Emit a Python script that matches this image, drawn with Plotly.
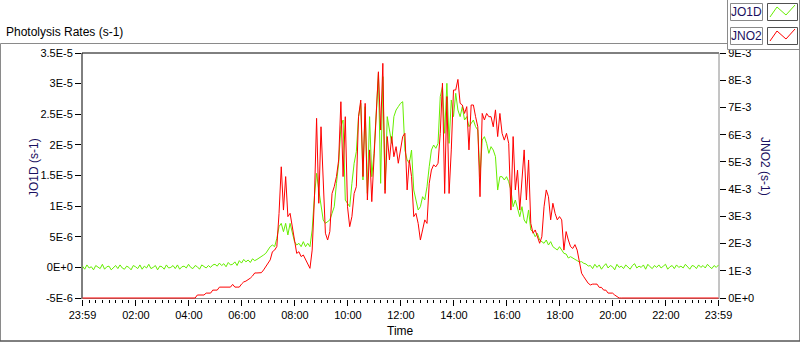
import plotly.graph_objects as go

# ---------------- data ----------------
# sample times: minutes after 23:59 (previous day), every 5 minutes
minutes = list(range(0, 1441, 5))
hours = [m / 60.0 for m in minutes]

# JO1D (units of 1e-6 s-1), left axis
jo1d_e6 = [
    0.2, -0.3, 0.4, -0.1, 0.1, -0.4, 0.3, 0.0, -0.2, 0.5,
    -0.3, 0.1, 0.2, -0.4, 0.0, 0.3, -0.2, 0.4, -0.1, -0.3,
    0.2, 0.0, -0.4, 0.3, 0.1, -0.2, 0.4, -0.3, 0.2, -0.1,
    0.5, -0.2, 0.0, 0.3, -0.4, 0.2, 0.1, -0.3, 0.4, -0.1,
    0.0, 0.3, -0.2, 0.4, -0.3, 0.1, 0.2, -0.1, 0.5, 0.0,
    -0.2, 0.3, 0.1, -0.3, 0.4, 0.2, -0.1, 0.3, 0.0, 0.4,
    0.5, 0.2, 0.7, 0.3, 0.6, 0.1, 0.8, 0.4, 0.5, 0.9,
    0.3, 1.1, 0.7, 1.3, 0.9, 1.2, 0.8, 1.4, 1.1, 1.3,
    1.5, 1.75, 2.02, 2.29, 2.84, 3.38, 3.65, 3.38, 4.74, 6.65,
    7.19, 5.83, 7.19, 5.29, 7.19, 5.56, 4.20, 3.65, 3.93, 3.38,
    4.20, 3.38, 3.93, 3.38, 6.10, 11.54, 15.35, 12.63, 10.46, 7.74,
    7.19, 7.46, 7.74, 8.82, 9.91, 13.72, 16.99, 22.97, 24.06, 11.00,
    10.46, 9.91, 13.72, 16.99, 18.89, 24.61, 26.78, 14.27, 26.24, 12.09,
    24.61, 14.81, 18.62, 25.69, 31.68, 13.72, 31.14, 12.63, 24.61, 22.43,
    20.25, 24.61, 25.69, 26.24, 26.78, 27.05, 19.16, 17.53, 16.99, 19.16,
    12.63, 11.00, 9.37, 9.91, 11.54, 11.00, 13.17, 16.44, 19.16, 19.98,
    19.44, 20.25, 27.87, 29.50, 21.89, 30.05, 20.25, 27.33, 24.61, 28.42,
    25.69, 24.61, 26.24, 24.06, 24.61, 22.97, 23.52, 24.06, 22.97, 22.43,
    14.81, 20.80, 21.34, 20.25, 18.62, 19.71, 19.16, 18.08, 12.63, 14.81,
    14.81, 14.27, 14.81, 13.99, 12.63, 9.91, 11.00, 9.37, 8.28, 9.91,
    7.74, 7.19, 9.37, 6.10, 5.83, 5.01, 5.56, 4.47, 4.20, 3.93,
    4.47, 3.65, 4.20, 3.38, 3.11, 2.84, 3.38, 2.84, 2.29, 2.18,
    1.53, 1.75, 1.48, 1.31, 1.10, 0.88, 0.93, 0.66, 0.55, 0.22,
    0.3, -0.2, 0.5, 0.0, 0.4, -0.3, 0.2, 0.6, -0.1, 0.3,
    0.1, -0.4, 0.5, 0.0, 0.2, -0.2, 0.4, 0.1, -0.3, 0.3,
    0.6, -0.1, 0.2, 0.0, 0.4, -0.3, 0.5, 0.1, -0.2, 0.3,
    0.0, 0.4, -0.1, 0.2, 0.5, -0.3, 0.1, 0.3, -0.2, 0.4,
    0.0, 0.2, -0.1, 0.5, 0.1, -0.3, 0.3, 0.2, -0.2, 0.4,
    0.0, 0.3, -0.1, 0.5, 0.1, -0.2, 0.3, 0.0, 0.4,
]

# JNO2 (units of 1e-3 s-1), right axis
jno2_e3 = [
    0, 0, 0, 0, 0, 0, 0, 0, 0, 0,
    0, 0, 0, 0, 0, 0, 0, 0, 0, 0,
    0, 0, 0, 0, 0, 0, 0, 0, 0, 0,
    0, 0, 0, 0, 0, 0, 0, 0, 0, 0,
    0, 0, 0, 0, 0, 0, 0, 0, 0, 0,
    0, 0, 0.11, 0.11, 0.11, 0.11, 0.18, 0.18, 0.18, 0.29,
    0.29, 0.29, 0.40, 0.40, 0.40, 0.40, 0.40, 0.40, 0.50, 0.40,
    0.40, 0.40, 0.51, 0.59, 0.62, 0.66, 0.73, 0.81, 0.92, 0.92,
    0.92, 0.93, 1.03, 1.15, 1.27, 1.40, 1.70, 1.76, 1.89, 3.11,
    4.82, 3.23, 4.46, 2.99, 3.11, 2.62, 2.25, 1.64, 1.70, 1.52,
    1.58, 1.40, 1.27, 1.09, 1.76, 3.60, 6.60, 3.48, 6.29, 3.97,
    2.38, 2.13, 2.44, 3.84, 4.09, 4.46, 5.07, 7.21, 4.46, 6.66,
    3.35, 2.62, 2.99, 3.84, 4.09, 6.66, 7.27, 4.46, 7.15, 3.60,
    5.44, 3.54, 5.19, 6.66, 8.31, 6.17, 8.62, 3.84, 5.93, 5.07,
    5.93, 5.19, 5.56, 4.95, 5.44, 5.93, 6.05, 3.97, 5.07, 4.46,
    2.99, 3.11, 2.74, 2.13, 2.50, 2.87, 2.74, 4.21, 4.70, 4.89,
    4.82, 4.95, 6.05, 7.89, 3.84, 7.40, 3.84, 5.44, 7.64, 7.64,
    8.03, 7.15, 7.09, 6.78, 7.03, 5.44, 7.09, 7.09, 6.66, 6.29,
    3.72, 6.78, 6.54, 6.78, 6.66, 6.66, 6.29, 6.91, 5.93, 6.78,
    6.05, 5.80, 6.05, 5.68, 3.23, 5.93, 3.97, 4.70, 3.23, 4.21,
    5.44, 3.60, 5.07, 2.74, 2.38, 2.50, 2.25, 2.01, 2.25, 3.35,
    3.97, 3.72, 2.87, 3.48, 3.11, 2.87, 2.99, 2.87, 1.76, 2.44,
    2.13, 1.89, 1.82, 1.96, 1.76, 1.27, 0.91, 0.78, 0.66, 0.54,
    0.48, 0.51, 0.51, 0.51, 0.39, 0.39, 0.29, 0.29, 0.18, 0.18,
    0.18, 0.11, 0.04, 0, 0, 0, 0, 0, 0, 0,
    0, 0, 0, 0, 0, 0, 0, 0, 0, 0,
    0, 0, 0, 0, 0, 0, 0, 0, 0, 0,
    0, 0, 0, 0, 0, 0, 0, 0, 0, 0,
    0, 0, 0, 0, 0, 0, 0, 0, 0,
]

x_tick_hours = [0, 2 + 1/60, 4 + 1/60, 6 + 1/60, 8 + 1/60, 10 + 1/60, 12 + 1/60,
                14 + 1/60, 16 + 1/60, 18 + 1/60, 20 + 1/60, 22 + 1/60, 24]
x_tick_labels = ["23:59", "02:00", "04:00", "06:00", "08:00", "10:00", "12:00",
                 "14:00", "16:00", "18:00", "20:00", "22:00", "23:59"]
left_tick_vals = [-5e-6, 0, 5e-6, 1e-5, 1.5e-5, 2e-5, 2.5e-5, 3e-5, 3.5e-5]
left_tick_labels = ["-5E-6", "0E+0", "5E-6", "1E-5", "1.5E-5", "2E-5", "2.5E-5", "3E-5", "3.5E-5"]
right_tick_vals = [0, 1e-3, 2e-3, 3e-3, 4e-3, 5e-3, 6e-3, 7e-3, 8e-3, 9e-3]
right_tick_labels = ["0E+0", "1E-3", "2E-3", "3E-3", "4E-3", "5E-3", "6E-3", "7E-3", "8E-3", "9E-3"]

jo1d = [v * 1e-6 for v in jo1d_e6]
jno2 = [v * 1e-3 for v in jno2_e3]

# ---------------- layout helpers ----------------
W, H = 800, 342
L, R, T, B = 82, 81, 53, 43
PW, PH = W - L - R, H - T - B
FONT = "Liberation Sans"
GREEN = "#66EE00"
RED = "#FF0000"
NAVY = "#1a1060"
GRAY = "#8a8a8a"


def px(x):
    return (x - L) / PW


def py(y):
    return (H - B - y) / PH


fig = go.Figure()
fig.add_trace(go.Scatter(x=hours, y=jo1d, mode="lines", name="JO1D",
                         line=dict(color=GREEN, width=1), yaxis="y"))
fig.add_trace(go.Scatter(x=hours, y=jno2, mode="lines", name="JNO2",
                         line=dict(color=RED, width=1), yaxis="y2"))

shapes = []
# plot area borders
shapes.append(dict(type="line", xref="paper", yref="paper", x0=0, x1=1, y0=1, y1=1,
                   line=dict(color="#000", width=1), layer="below"))
shapes.append(dict(type="line", xref="paper", yref="paper", x0=0, x1=0, y0=0, y1=1,
                   line=dict(color="#000", width=1), layer="below"))
shapes.append(dict(type="line", xref="paper", yref="paper", x0=1, x1=1, y0=0, y1=1,
                   line=dict(color=GRAY, width=1), layer="below"))
shapes.append(dict(type="line", xref="paper", yref="paper", x0=0, x1=1, y0=py(298.5), y1=py(298.5),
                   line=dict(color=GRAY, width=1), layer="below"))
# outer frame
frame = [((0.5, 43.5), (727.5, 43.5)), ((0.5, 43.5), (0.5, 340.5)),
         ((799.5, 0), (799.5, 340.5)), ((727.5, 0), (727.5, 49.5)),
         ((727.5, 49.5), (799.5, 49.5))]
for (a, b) in frame:
    shapes.append(dict(type="line", xref="paper", yref="paper",
                       x0=px(a[0]), y0=py(a[1]), x1=px(b[0]), y1=py(b[1]),
                       line=dict(color=GRAY, width=1)))
shapes.append(dict(type="line", xref="paper", yref="paper",
                   x0=px(0), y0=py(341), x1=px(800), y1=py(341),
                   line=dict(color="#000", width=1)))
# legend boxes
for (x0, y0, x1, y1, col) in [(730.5, 3.5, 762.5, 20.5, GRAY), (767.5, 3.5, 797.5, 20.5, "#505050"),
                              (730.5, 27.5, 762.5, 44.5, GRAY), (767.5, 27.5, 797.5, 44.5, "#505050")]:
    shapes.append(dict(type="rect", xref="paper", yref="paper",
                       x0=px(x0), y0=py(y0), x1=px(x1), y1=py(y1),
                       line=dict(color=col, width=1), fillcolor="white"))
for (dy, col) in [(0, GREEN), (24, RED)]:
    pts = [(770, 17 + dy), (777, 7 + dy), (786, 15 + dy), (795, 5 + dy)]
    path = "M " + " L ".join(f"{px(a):.5f},{py(b):.5f}" for a, b in pts)
    shapes.append(dict(type="path", xref="paper", yref="paper", path=path,
                       line=dict(color=col, width=1)))

annotations = [
    dict(text="Photolysis Rates (s-1)", x=px(4), y=py(32), xanchor="left", yanchor="middle",
         font=dict(family=FONT, size=12, color="#000")),
    dict(text="JO1D (s-1)", x=px(34), y=py(168), textangle=-90, xanchor="center", yanchor="middle",
         font=dict(family=FONT, size=12, color=NAVY)),
    dict(text="JNO2 (s-1)", x=px(765), y=py(166), textangle=90, xanchor="center", yanchor="middle",
         font=dict(family=FONT, size=12, color=NAVY)),
    dict(text="Time", x=px(400), y=py(331), xanchor="center", yanchor="middle",
         font=dict(family=FONT, size=12, color="#000")),
    dict(text="JO1D", x=px(746.5), y=py(12), xanchor="center", yanchor="middle",
         font=dict(family=FONT, size=12, color=NAVY)),
    dict(text="JNO2", x=px(746.5), y=py(36), xanchor="center", yanchor="middle",
         font=dict(family=FONT, size=12, color=NAVY)),
]
for a in annotations:
    a.update(xref="paper", yref="paper", showarrow=False)

pxl_left = 4e-5 / 245
pxl_right = 9e-3 / 245

fig.update_layout(
    width=W, height=H,
    margin=dict(l=L, r=R, t=T, b=B, pad=0),
    paper_bgcolor="white", plot_bgcolor="white",
    showlegend=False, hovermode=False,
    font=dict(family=FONT, size=11, color="#000"),
    shapes=shapes, annotations=annotations,
    xaxis=dict(range=[-0.5 / 26.5, 24 + 0.5 / 26.5], tickmode="array",
               tickvals=x_tick_hours, ticktext=x_tick_labels,
               ticks="outside", ticklen=6, tickcolor="#000", tickwidth=1,
               showgrid=False, zeroline=False, showline=False,
               tickfont=dict(family=FONT, size=11, color="#000"),
               minor=dict(tickmode="linear", tick0=0, dtick=0.25, ticks="outside",
                          ticklen=3, tickcolor="#000", tickwidth=1, showgrid=False)),
    yaxis=dict(range=[-5e-6 - pxl_left, 3.5e-5], tickmode="array",
               tickvals=left_tick_vals, ticktext=left_tick_labels,
               ticks="outside", ticklen=6, tickcolor="#000",
               showgrid=False, zeroline=False, showline=False,
               tickfont=dict(family=FONT, size=11, color="#000")),
    yaxis2=dict(range=[-pxl_right, 9e-3], overlaying="y", side="right", tickmode="array",
                tickvals=right_tick_vals, ticktext=right_tick_labels,
                ticks="outside", ticklen=6, tickcolor="#000",
                showgrid=False, zeroline=False, showline=False,
                tickfont=dict(family=FONT, size=11, color="#000")),
)

fig.write_html("out.html", config={"displayModeBar": False},
               post_script="document.body.style.margin='0px';document.body.style.overflow='hidden';")
